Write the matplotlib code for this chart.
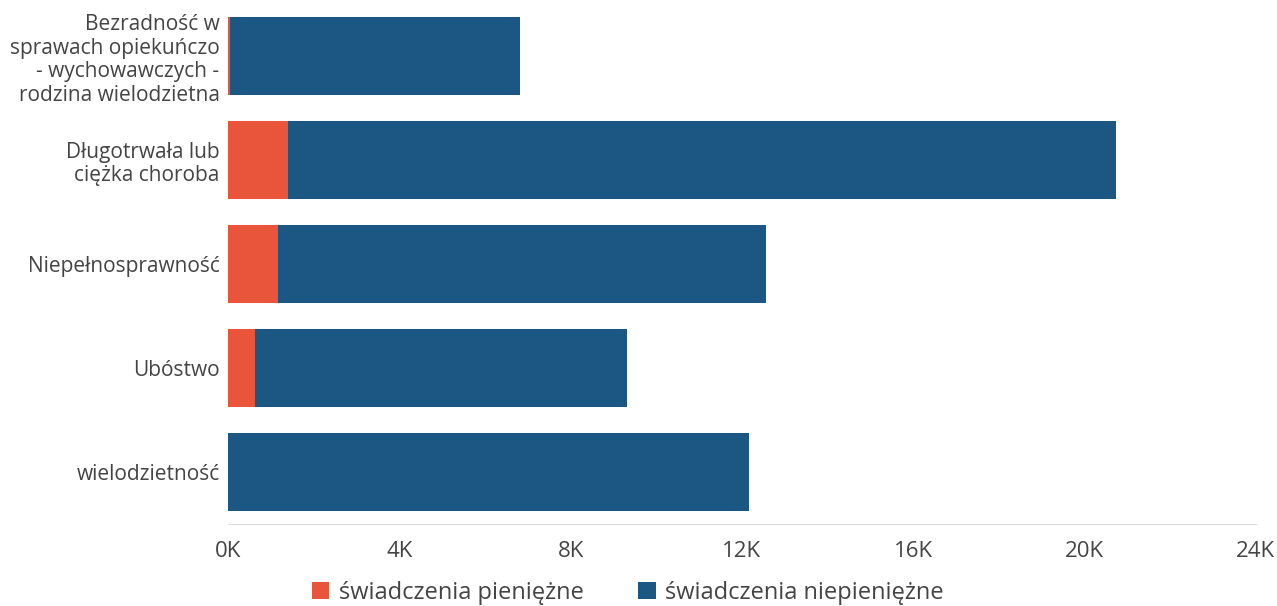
import matplotlib
matplotlib.use('Agg')
import matplotlib.pyplot as plt
from matplotlib.ticker import FuncFormatter

kategorie = ['Bezradność w\nsprawach opiekuńczo\n- wychowawczych -\nrodzina wielodzietna',
             'Długotrwała lub\nciężka choroba',
             'Niepełnosprawność',
             'Ubóstwo',
             'wielodzietność']
pieniezne = [50, 1400, 1170, 630, 0]
niepieniezne = [6770, 19330, 11390, 8690, 12160]

plt.rcParams['font.family'] = ['Open Sans', 'DejaVu Sans']
kolor_tekstu = '#444444'

fig = plt.figure(figsize=(12.77, 6.06), dpi=100)
ax = fig.add_axes([0.1785, 0.135, 0.805, 0.858])

y = list(range(len(kategorie)))
ax.barh(y, pieniezne, height=0.75, color='#e9553a', label='świadczenia pieniężne')
ax.barh(y, niepieniezne, left=pieniezne, height=0.75, color='#1c5783',
        label='świadczenia niepieniężne')

ax.set_ylim(len(kategorie) - 0.5, -0.5)
ax.set_xlim(0, 24000)
ax.set_yticks(y)
ax.set_yticklabels(kategorie, fontsize=15, color=kolor_tekstu, linespacing=1.15)
ax.set_xticks(range(0, 24001, 4000))
ax.xaxis.set_major_formatter(FuncFormatter(lambda v, p: f'{int(v/1000)}K'))
ax.tick_params(axis='x', labelsize=16, labelcolor=kolor_tekstu, length=0, pad=12)
ax.tick_params(axis='y', length=0, pad=6)

for s in ['top', 'right', 'left']:
    ax.spines[s].set_visible(False)
ax.spines['bottom'].set_color('#dddddd')

ax.legend(loc='upper center', bbox_to_anchor=(0.389, -0.077), ncol=2, frameon=False,
          fontsize=17, labelcolor=kolor_tekstu, handlelength=0.75, handleheight=0.75,
          handletextpad=0.4, columnspacing=2.3, borderpad=0.2)

fig.savefig('out.png', dpi=100)
